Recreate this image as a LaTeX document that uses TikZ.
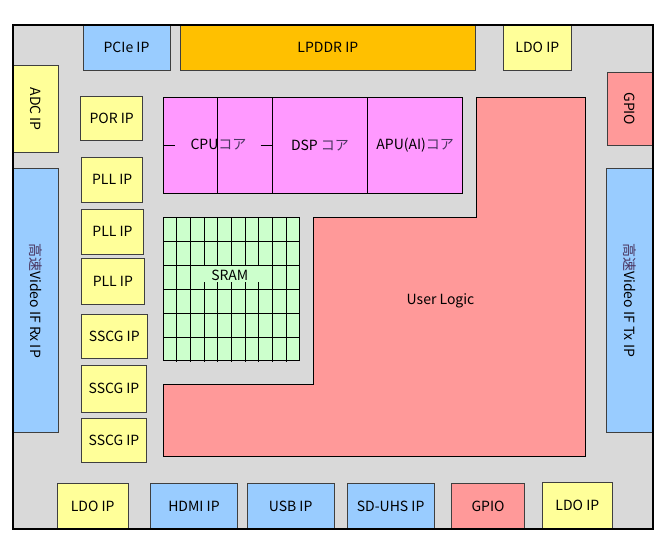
\documentclass[tikz,border=0pt]{standalone}
\usepackage{fontspec}
\setmainfont{Noto Sans CJK JP}
\definecolor{chipgray}{HTML}{D9D9D9}
\definecolor{yelc}{HTML}{FFFF99}
\definecolor{bluc}{HTML}{99CCFF}
\definecolor{orgc}{HTML}{FFC000}
\definecolor{redc}{HTML}{FF9999}
\definecolor{pinkc}{HTML}{FF99FF}
\definecolor{grnc}{HTML}{CCFFCC}
\definecolor{edgec}{HTML}{3F3F3F}
\definecolor{cjkc}{HTML}{4A3560}
\newcommand\blk[7]{\node[#2, minimum width={(#5-#3)*1pt}, minimum height={(#6-#4)*1pt}] (#1) at ({(#3+#5)/2},{(#4+#6)/2}) {#7};}
\newcommand\jp[1]{{\color{cjkc}#1}}
\begin{document}
\begin{tikzpicture}[x=1pt,y=-1pt,
  every node/.style={font=\fontsize{14}{16}\selectfont, text=black},
  ipbox/.style={draw=edgec, line width=0.8pt, inner sep=0pt},
  corebox/.style={draw=black, line width=0.9pt, fill=pinkc, inner sep=0pt},
  gridline/.style={draw=black, line width=0.9pt},
  vtext/.style={rotate=-90, inner sep=0pt}]
\useasboundingbox (0,0) rectangle (668,555);
% chip background
\fill[chipgray] (13,25) rectangle (653,529);
% top row
\blk{pcie}{ipbox, fill=bluc}{83}{25}{170}{70}{PCIe IP}
\blk{lpddr}{ipbox, fill=orgc}{180}{25}{475.7}{70}{LPDDR IP}
\blk{ldotop}{ipbox, fill=yelc}{503}{25}{571.7}{70}{LDO IP}
% left side
\blk{adc}{ipbox, fill=yelc}{13}{65.7}{58.3}{152.7}{}
\node[vtext] (adct) at (adc.center) {ADC IP};
\blk{vrx}{ipbox, fill=bluc}{13}{168.7}{58.3}{432.3}{}
\node[vtext] (vrxt) at (vrx.center) {\jp{高速}Video IF Rx IP};
% right side
\blk{gpior}{ipbox, fill=redc}{607}{72.7}{653}{145}{}
\node[vtext] (gpiort) at (gpior.center) {GPIO};
\blk{vtx}{ipbox, fill=bluc}{606.7}{168}{653}{432.3}{}
\node[vtext] (vtxt) at (vtx.center) {\jp{高速}Video IF Tx IP};
% analog column
\blk{por}{ipbox, fill=yelc}{80.7}{96}{142.7}{140.3}{POR IP}
\blk{pll1}{ipbox, fill=yelc}{81.7}{157.3}{142.7}{202.3}{PLL IP}
\blk{pll2}{ipbox, fill=yelc}{81.7}{209.3}{143.3}{254.3}{PLL IP}
\blk{pll3}{ipbox, fill=yelc}{81.7}{258.7}{144}{304}{PLL IP}
\blk{sscg1}{ipbox, fill=yelc}{81.7}{314.7}{147}{358}{SSCG IP}
\blk{sscg2}{ipbox, fill=yelc}{81.7}{365.3}{146.3}{412.3}{SSCG IP}
\blk{sscg3}{ipbox, fill=yelc}{81.7}{418.7}{146.3}{462.7}{SSCG IP}
% bottom row
\blk{ldob1}{ipbox, fill=yelc}{57.3}{483.3}{128}{529}{LDO IP}
\blk{hdmi}{ipbox, fill=bluc}{150.3}{483.3}{237.7}{529}{HDMI IP}
\blk{usb}{ipbox, fill=bluc}{247}{483.3}{334.3}{529}{USB IP}
\blk{sduhs}{ipbox, fill=bluc}{347}{483.3}{434.3}{529}{SD-UHS IP}
\blk{gpiob}{ipbox, fill=redc}{451.7}{483.3}{524.3}{529}{GPIO}
\blk{ldob2}{ipbox, fill=yelc}{542.7}{482.7}{612}{529}{LDO IP}
% cores
\blk{cpu}{corebox}{163.3}{97.3}{272.3}{193.3}{}
\blk{dsp}{corebox}{272.3}{97.3}{367.7}{193.3}{}
\blk{apu}{corebox}{367.7}{97.3}{462.7}{193.3}{}
\coordinate (cpumidT) at (217.3,97.3);
\coordinate (cpumidB) at (217.3,193.3);
\draw[gridline] (cpumidT) -- (cpumidB);
\coordinate (cpuL) at (175,145.3);
\coordinate (cpuR) at (260.7,145.3);
\draw[gridline] (cpu.west) -- (cpuL);
\draw[gridline] (cpuR) -- (cpu.east);
\node[inner sep=0pt] (cput) at (218.5,145) {CPU\jp{コア}};
\node[inner sep=0pt] (dspt) at (dsp.center) {DSP \jp{コア}};
\node[inner sep=0pt] (aput) at (apu.center) {APU(AI)\jp{コア}};
% SRAM
\blk{sram}{draw=black, line width=0.9pt, fill=grnc, inner sep=0pt}{163.3}{217.3}{299.7}{360.3}{}
\foreach \yy in {241,265.3,289.7,313.7,337.7} \draw[gridline] (163.3,\yy) -- (299.7,\yy);
\foreach \k in {1,...,9} \draw[gridline] ({163.3+13.64*\k},217.3) -- ({163.3+13.64*\k},361.8);
\fill[grnc] (203.8,266) rectangle (259.8,281.6);
\node[inner sep=0pt] (sramt) at (229.8,275.5) {SRAM};
% User logic
\draw[line width=0.9pt, fill=redc] (476.7,97.3) -- (585.3,97.3) -- (585.3,456) -- (163.3,456) -- (163.3,384.7) -- (313.3,384.7) -- (313.3,217.3) -- (476.7,217.3) -- cycle;
\node[inner sep=0pt] (ul) at (440.5,301) {User Logic};
% chip outline
\draw[line width=1.6pt] (13,25) rectangle (653,529);
\end{tikzpicture}
\end{document}
